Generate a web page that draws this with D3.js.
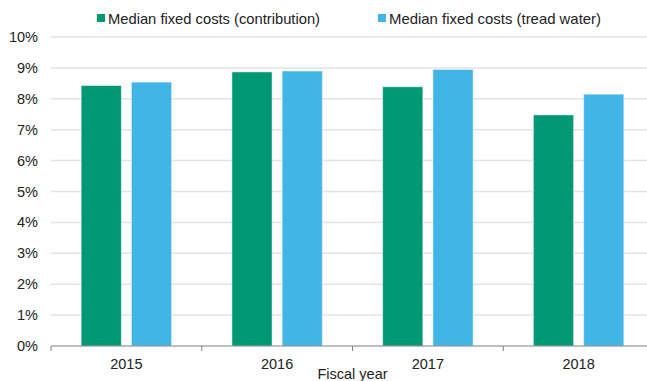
<!DOCTYPE html>
<html>
<head>
<meta charset="utf-8">
<script src="https://cdn.jsdelivr.net/npm/d3@7"></script>
<style>
  html, body { margin: 0; padding: 0; background: #fff; }
  svg { display: block; font-family: "Liberation Sans", Arial, sans-serif; }
</style>
</head>
<body>
<svg id="chart" width="647" height="381"></svg>
<script>
// Fiscal years and median fixed costs (% of revenue)
const years = ["2015", "2016", "2017", "2018"];
const contribution = [8.43, 8.87, 8.39, 7.48];
const treadWater = [8.54, 8.90, 8.95, 8.15];
const seriesNames = ["Median fixed costs (contribution)", "Median fixed costs (tread water)"];
const seriesColors = ["#009775", "#41b6e6"];
const yTicks = [0, 1, 2, 3, 4, 5, 6, 7, 8, 9, 10];

const svg = d3.select("#chart");
const margin = { left: 51, right: -7, top: 37, bottom: 35 };
const W = 647, H = 381;
const fs = 14.5;

const x = d3.scaleBand().domain(years).range([margin.left, W - margin.right]).paddingInner(0).paddingOuter(0);
const sub = d3.scaleBand().domain([0, 1]).range([0, x.bandwidth()]).paddingInner(0.2).paddingOuter(0.6);
const y = d3.scaleLinear().domain([0, 10]).range([H - margin.bottom, margin.top]);

// Horizontal gridlines
svg.append("g")
  .selectAll("line")
  .data(yTicks.filter(d => d > 0))
  .join("line")
  .attr("x1", margin.left).attr("x2", W - margin.right)
  .attr("y1", d => y(d)).attr("y2", d => y(d))
  .attr("stroke", "#e3e3e3").attr("stroke-width", 1.5);

// Y axis labels
svg.append("g")
  .selectAll("text")
  .data(yTicks)
  .join("text")
  .attr("x", margin.left - 13)
  .attr("y", d => y(d))
  .attr("dy", "0.35em")
  .attr("text-anchor", "end")
  .attr("font-size", fs)
  .attr("fill", "#222")
  .text(d => d + "%");

// Bars
const series = [contribution, treadWater];
series.forEach((vals, i) => {
  svg.append("g")
    .selectAll("rect")
    .data(vals)
    .join("rect")
    .attr("x", (d, j) => x(years[j]) + sub(i))
    .attr("width", sub.bandwidth())
    .attr("y", d => y(d))
    .attr("height", d => y(0) - y(d))
    .attr("fill", seriesColors[i])
    .attr("stroke", "#fff")
    .attr("stroke-opacity", 0.5)
    .attr("stroke-width", 1);
});

// X axis with ticks at category boundaries
const xAxis = svg.append("g");
xAxis.append("line")
  .attr("x1", margin.left).attr("x2", W - margin.right)
  .attr("y1", y(0)).attr("y2", y(0))
  .attr("stroke", "#7f7f7f").attr("stroke-width", 1);
xAxis.selectAll("line.tick")
  .data(years.concat(["end"]))
  .join("line")
  .attr("class", "tick")
  .attr("x1", (d, i) => i < years.length ? x(d) : x(years[years.length - 1]) + x.bandwidth())
  .attr("x2", (d, i) => i < years.length ? x(d) : x(years[years.length - 1]) + x.bandwidth())
  .attr("y1", y(0)).attr("y2", y(0) + 5)
  .attr("stroke", "#7f7f7f");
xAxis.selectAll("text")
  .data(years)
  .join("text")
  .attr("x", d => x(d) + x.bandwidth() / 2)
  .attr("y", y(0) + 22.5)
  .attr("text-anchor", "middle")
  .attr("font-size", fs)
  .attr("fill", "#222")
  .text(d => d);

// Axis title
svg.append("text")
  .attr("x", (margin.left + W - margin.right) / 2)
  .attr("y", H - 2)
  .attr("text-anchor", "middle")
  .attr("font-size", fs)
  .attr("fill", "#222")
  .text("Fiscal year");

// Legend
const legendX = [97, 378];
const legendLen = [212, 212];
const legend = svg.append("g");
seriesNames.forEach((name, i) => {
  legend.append("rect")
    .attr("x", legendX[i]).attr("y", 14)
    .attr("width", 8).attr("height", 8)
    .attr("fill", seriesColors[i]);
  legend.append("text")
    .attr("x", legendX[i] + 11).attr("y", 18.5)
    .attr("dy", "0.35em")
    .attr("font-size", fs)
    .attr("textLength", legendLen[i])
    .attr("lengthAdjust", "spacingAndGlyphs")
    .attr("fill", "#222")
    .text(name);
});
</script>
</body>
</html>
